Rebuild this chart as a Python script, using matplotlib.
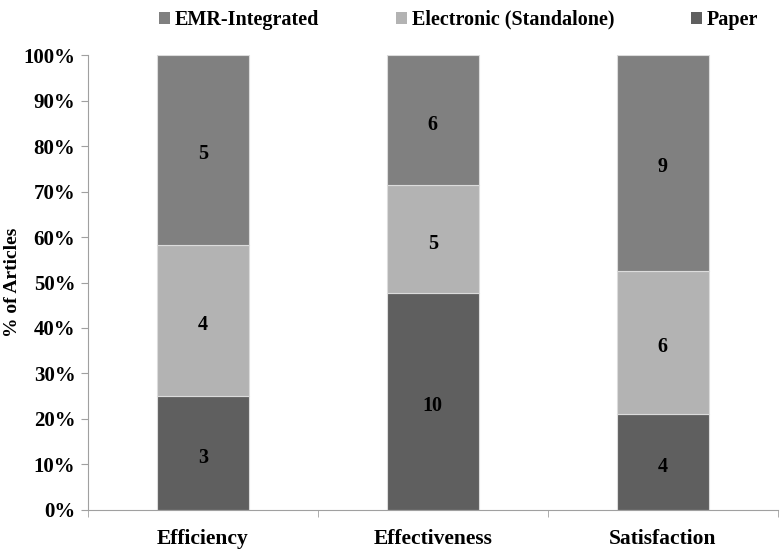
import matplotlib.pyplot as plt
import numpy as np

categories = ["Efficiency", "Effectiveness", "Satisfaction"]
paper = [3, 10, 4]
electronic = [4, 5, 6]
emr = [5, 6, 9]
yticks = [0, 10, 20, 30, 40, 50, 60, 70, 80, 90, 100]

plt.rcParams['font.family'] = ['Liberation Serif', 'DejaVu Serif']
plt.rcParams['font.weight'] = 'bold'

fig = plt.figure(figsize=(7.8, 5.53), dpi=100)
ax = fig.add_axes([0.1128, 0.0778, 0.884, 0.8227])

x = np.arange(len(categories))
totals = np.array(paper) + np.array(electronic) + np.array(emr)
series = [("Paper", paper, "#5f5f5f"),
          ("Electronic (Standalone)", electronic, "#b3b3b3"),
          ("EMR-Integrated", emr, "#808080")]

bottom = np.zeros(len(categories))
handles = {}
for name, vals, col in series:
    pct = np.array(vals) / totals * 100
    bars = ax.bar(x, pct, 0.4, bottom=bottom, color=col, edgecolor="#dcdcdc",
                  linewidth=0.8, label=name)
    handles[name] = bars
    for xi, b, p, v in zip(x, bottom, pct, vals):
        ax.text(xi, b + p / 2 - 1, str(v), ha="center", va="center",
                fontsize=14.5, fontweight="bold", color="black")
    bottom += pct

ax.set_xlim(-0.5, 2.5)
ax.set_ylim(0, 100)
ax.set_yticks(yticks)
ax.set_yticklabels([f"{t}%" for t in yticks], fontsize=15, fontweight="bold")
ax.set_xticks(x)
ax.set_xticklabels(categories, fontsize=15.5, fontweight="bold")
ax.tick_params(axis="x", length=0, pad=14)
ax.set_xticks([-0.5, 0.5, 1.5, 2.5], minor=True)
ax.tick_params(axis="x", which="minor", length=5, color="#a0a0a0")
ax.tick_params(axis="y", length=5, color="#a0a0a0", pad=4)

for s in ["top", "right"]:
    ax.spines[s].set_visible(False)
for s in ["left", "bottom"]:
    ax.spines[s].set_color("#a0a0a0")

ax.set_ylabel("% of Articles", fontsize=14, fontweight="bold")
ax.yaxis.set_label_coords(-0.097, 0.5)

# legend across the top, reversed stack order
order = ["EMR-Integrated", "Electronic (Standalone)", "Paper"]
leg = fig.legend([handles[n] for n in order], order, loc="upper center",
                 bbox_to_anchor=(0.588, 1.015), ncol=3, frameon=False,
                 prop={"family": "Liberation Serif", "weight": "bold", "size": 14.5},
                 handlelength=0.55, handleheight=0.55,
                 handletextpad=0.25, columnspacing=3.8)
for p in leg.get_patches():
    p.set_edgecolor("none")

fig.savefig("out.png", dpi=100)
